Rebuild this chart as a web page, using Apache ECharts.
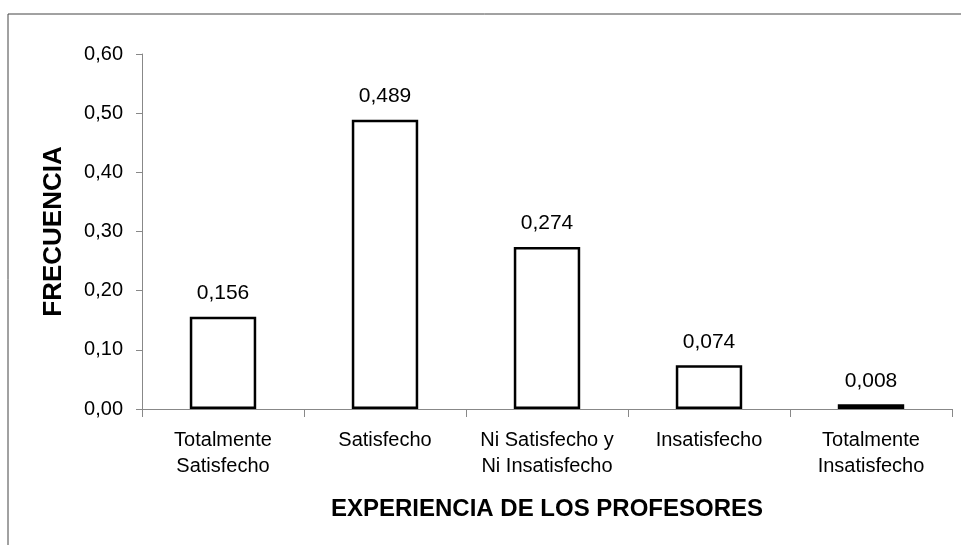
<!DOCTYPE html>
<html>
<head>
<meta charset="utf-8">
<script src="https://cdn.jsdelivr.net/npm/echarts@6/dist/echarts.min.js"></script>
<style>
  html, body { margin: 0; padding: 0; background: #fff; }
  #chart { width: 961px; height: 545px; }
</style>
</head>
<body>
<div id="chart"></div>
<script>
// categorías y frecuencias
const categories = [
  'Totalmente\nSatisfecho',
  'Satisfecho',
  'Ni Satisfecho y\nNi Insatisfecho',
  'Insatisfecho',
  'Totalmente\nInsatisfecho'
];
const frecuencias = [0.156, 0.489, 0.274, 0.074, 0.008];
const yTicks = { min: 0, max: 0.6, interval: 0.1 };

const fmtComa = (v, d) => v.toFixed(d).replace('.', ',');

const chart = echarts.init(document.getElementById('chart'));
const option = {
  animation: false,
  backgroundColor: '#fff',
  textStyle: { fontFamily: 'Liberation Sans, Arial, sans-serif' },
  grid: { left: 142, right: 9, top: 54, bottom: 136 },
  // marco (solo borde superior e izquierdo)
  graphic: [{
    type: 'polyline',
    shape: { points: [[8, 545], [8, 14], [961, 14]] },
    style: { stroke: '#444', lineWidth: 1, fill: null }
  }],
  xAxis: {
    type: 'category',
    data: categories,
    name: 'EXPERIENCIA DE LOS PROFESORES',
    nameLocation: 'middle',
    nameGap: 88,
    nameTextStyle: { fontSize: 24, fontWeight: 'bold', color: '#000' },
    axisLine: { lineStyle: { color: '#888', width: 1 } },
    axisTick: { show: true, length: 8, alignWithLabel: false, lineStyle: { color: '#888' } },
    axisLabel: { color: '#000', fontSize: 20, lineHeight: 26, margin: 18, interval: 0 }
  },
  yAxis: {
    type: 'value',
    min: yTicks.min,
    max: yTicks.max,
    interval: yTicks.interval,
    name: 'FRECUENCIA',
    nameLocation: 'middle',
    nameGap: 75,
    nameRotate: 90,
    nameTextStyle: { fontSize: 26, fontWeight: 'bold', color: '#000' },
    splitLine: { show: false },
    axisLine: { show: true, lineStyle: { color: '#888', width: 1 } },
    axisTick: { show: true, length: 6, lineStyle: { color: '#888' } },
    axisLabel: { color: '#000', fontSize: 20, margin: 19, formatter: v => fmtComa(v, 2) }
  },
  series: [{
    type: 'bar',
    data: frecuencias,
    barWidth: '41%',
    itemStyle: { color: '#fff', borderColor: '#000', borderWidth: 2.5 },
    label: {
      show: true,
      position: 'top',
      distance: 13,
      fontSize: 21,
      color: '#000',
      formatter: p => fmtComa(p.value, 3)
    }
  }]
};
chart.setOption(option);
</script>
</body>
</html>
